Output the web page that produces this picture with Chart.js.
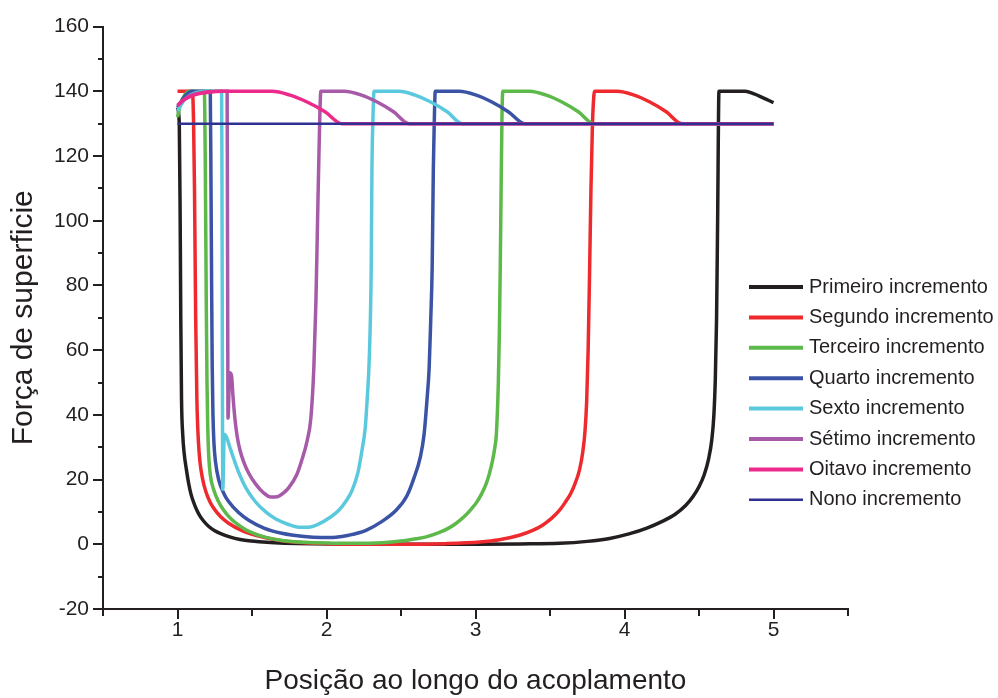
<!DOCTYPE html>
<html><head><meta charset="utf-8">
<script src="https://cdn.jsdelivr.net/npm/chart.js@4.4.0/dist/chart.umd.min.js"></script>
<style>html,body{margin:0;padding:0;background:#fff;}canvas{display:block;}</style>
</head><body>
<canvas id="c" width="998" height="698"></canvas>
<script>
// ---- data (x = position, y = force) ----
const seriesLabels = ['Primeiro incremento','Segundo incremento','Terceiro incremento','Quarto incremento','Sexto incremento','Sétimo incremento','Oitavo incremento','Nono incremento'];
const seriesColors = ['#231f20','#ee2a2e','#5db94a','#3a53a4','#5bc9dd','#a65aa8','#ec2a8c','#2e3192'];

const primeiro = [[1.0,135],[1.012,130],[1.018,100],[1.022,70],[1.027,45],[1.035,34],[1.045,28],[1.06,23],[1.075,18.8],[1.09,15.6],[1.108,13],[1.13,10.5],[1.15,8.8],[1.175,7.2],[1.21,5.5],[1.25,4.2],[1.29,3.3],[1.35,2.3],[1.42,1.5],[1.5,1.0],[1.6,0.6],[1.72,0.35],[1.9,0.15],[2.2,0.05],[2.6,0],[3.0,0],[3.3,0.1],[3.564,0.3],[3.75,0.9],[3.9,1.8],[4.03,3.2],[4.15,5],[4.25,7],[4.34,9.3],[4.41,12],[4.46,14.8],[4.5,17.8],[4.535,21.5],[4.565,26.5],[4.585,32],[4.6,40],[4.61,52],[4.618,70],[4.625,100],[4.634,140],[4.7,140],[4.81,140],[4.87,139.2],[4.93,138],[5.0,136.5]];
const segundo = [[1.0,140],[1.06,140],[1.1,140],[1.108,130],[1.114,110],[1.118,90],[1.122,70],[1.13,45],[1.14,32],[1.152,25],[1.168,20.3],[1.19,16.3],[1.215,13.4],[1.242,11.2],[1.29,8.5],[1.343,6.5],[1.43,4.3],[1.525,2.8],[1.65,1.5],[1.794,0.6],[2.0,0.2],[2.5,0],[2.8,0.2],[3.03,0.7],[3.16,1.4],[3.295,2.8],[3.38,4.2],[3.45,5.9],[3.51,8],[3.56,10.3],[3.6,12.8],[3.64,15.8],[3.67,19],[3.698,23],[3.72,28.5],[3.735,35],[3.746,44],[3.756,60],[3.766,85],[3.775,110],[3.785,130],[3.8,140],[3.95,140],[4.06,138.9],[4.17,136.7],[4.28,133.7],[4.385,130],[5.0,130]];
const terceiro = [[1.0,132],[1.02,136],[1.05,139],[1.09,140],[1.18,140],[1.186,120],[1.19,95],[1.193,75],[1.198,50],[1.203,36],[1.21,27],[1.22,21.5],[1.242,17],[1.275,13.2],[1.31,10.5],[1.36,7.8],[1.42,5.6],[1.458,4.5],[1.52,3.2],[1.58,2.3],[1.7,1.2],[1.85,0.6],[2.036,0.35],[2.2,0.3],[2.373,0.5],[2.5,1.0],[2.6,1.7],[2.669,2.3],[2.75,3.5],[2.82,5],[2.871,6.5],[2.93,8.8],[2.97,10.8],[3.005,12.8],[3.04,15.5],[3.07,18.5],[3.093,21.8],[3.115,26],[3.13,30],[3.14,34],[3.153,49.5],[3.16,65],[3.166,85],[3.172,110],[3.177,130],[3.183,140],[3.362,140],[3.47,138.9],[3.58,136.7],[3.69,133.7],[3.795,130],[5.0,130]];
const quarto = [[1.0,135],[1.05,138.5],[1.1,140],[1.22,140],[1.225,110],[1.229,80],[1.233,55],[1.238,40],[1.245,31],[1.255,25.5],[1.276,20],[1.31,15.8],[1.343,13.2],[1.41,9.8],[1.478,7.4],[1.58,5],[1.7,3.4],[1.85,2.4],[1.96,2.1],[2.063,2.2],[2.15,2.8],[2.265,4.3],[2.37,7],[2.467,10.5],[2.54,15],[2.588,20.6],[2.63,27],[2.655,34],[2.675,45],[2.689,54.5],[2.7,70],[2.709,85],[2.713,100],[2.717,116],[2.723,130],[2.73,140],[2.89,140],[3.0,138.9],[3.11,136.7],[3.22,133.7],[3.33,130],[5.0,130]];
const sexto = [[1.0,134],[1.05,137.5],[1.12,139.5],[1.2,140],[1.296,140],[1.298,120],[1.3,80],[1.302,40],[1.304,17],[1.314,34],[1.33,33],[1.35,30.2],[1.377,26.5],[1.41,22.3],[1.458,17.5],[1.52,13.3],[1.592,10],[1.66,7.8],[1.74,6.2],[1.814,5.3],[1.88,5.3],[1.949,6.3],[2.02,8.2],[2.083,10.5],[2.13,13.3],[2.171,16.6],[2.21,22],[2.238,29],[2.26,36],[2.272,44],[2.285,55],[2.292,65],[2.3,85],[2.305,116],[2.312,132],[2.319,140],[2.487,140],[2.59,138.9],[2.7,136.7],[2.81,133.7],[2.911,130],[5.0,130]];
const setimo = [[1.0,135.5],[1.06,138],[1.15,139.5],[1.25,140],[1.333,140],[1.335,110],[1.337,70],[1.339,39],[1.35,53],[1.363,52],[1.372,46],[1.385,39],[1.4,33.5],[1.42,29],[1.444,25.5],[1.48,21.8],[1.525,18.6],[1.575,16],[1.626,14.6],[1.67,14.7],[1.71,15.8],[1.747,17.5],[1.8,21.5],[1.834,26],[1.87,32],[1.895,39],[1.915,54.5],[1.929,75],[1.94,100],[1.949,120],[1.955,132],[1.962,140],[2.117,140],[2.23,138.9],[2.34,136.7],[2.45,133.7],[2.555,130],[5.0,130]];
const oitavo = [[1.0,135.7],[1.04,137.3],[1.08,138.3],[1.14,139.2],[1.21,139.7],[1.3,140],[1.633,140],[1.75,138.9],[1.87,136.7],[1.99,133.7],[2.104,130],[5.0,130]];
const nono = [[1.0,130],[5.0,130]];

const xMin = 0.5, xMax = 5.5, xStep = 0.5;
const yMin = -20, yMax = 160, yStep = 10;

const allSeries = [primeiro, segundo, terceiro, quarto, sexto, setimo, oitavo, nono];
const lineWidths = [3.5,3.5,3.5,3.5,3.5,3.5,3.5,2.5];

const INK = '#231f20';
const FONT = "'Liberation Sans', Arial, Helvetica, sans-serif";

const datasets = allSeries.map((s, i) => ({
  label: seriesLabels[i],
  data: s.map(p => ({x: p[0], y: p[1]})),
  borderColor: seriesColors[i],
  backgroundColor: seriesColors[i],
  borderWidth: lineWidths[i],
  pointRadius: 0,
  fill: false,
  cubicInterpolationMode: 'monotone',
  order: allSeries.length - i
}));

const tickMarks = {
  id: 'tickMarks',
  afterDraw(chart) {
    const ctx = chart.ctx, xs = chart.scales.x, ys = chart.scales.y, a = chart.chartArea;
    ctx.save();
    ctx.strokeStyle = INK; ctx.lineWidth = 2; ctx.lineCap = 'butt';
    for (let v = yMin; v <= yMax; v += yStep) {
      const p = Math.round(ys.getPixelForValue(v));
      const len = (Math.abs(v % 20) === 0) ? 10 : 5;
      ctx.beginPath(); ctx.moveTo(a.left, p); ctx.lineTo(a.left - len, p); ctx.stroke();
    }
    for (let v = xMin; v <= xMax + 1e-9; v += xStep) {
      const p = Math.round(xs.getPixelForValue(v));
      const len = Number.isInteger(v) ? 10 : 7;
      ctx.beginPath(); ctx.moveTo(p, a.bottom); ctx.lineTo(p, a.bottom + len); ctx.stroke();
    }
    ctx.restore();
  }
};

const legendBox = {
  id: 'legendBox',
  afterDraw(chart) {
    const ctx = chart.ctx;
    const x0 = 749, x1 = 803, tx = 809, top = 287, step = 30.4;
    ctx.save();
    chart.data.datasets.forEach((ds, i) => {
      const y = top + i * step;
      ctx.strokeStyle = ds.borderColor;
      ctx.lineWidth = i === 7 ? 2.5 : 4;
      ctx.beginPath(); ctx.moveTo(x0, y); ctx.lineTo(x1, y); ctx.stroke();
      ctx.fillStyle = INK;
      ctx.font = '20px ' + FONT;
      ctx.textBaseline = 'middle';
      ctx.textAlign = 'left';
      ctx.fillText(ds.label, tx, y);
    });
    ctx.restore();
  }
};

new Chart(document.getElementById('c'), {
  type: 'line',
  data: { datasets },
  options: {
    responsive: false,
    animation: false,
    events: [],
    layout: { padding: { top: 24, right: 150, bottom: 0, left: 0 } },
    plugins: { legend: { display: false }, tooltip: { enabled: false } },
    scales: {
      x: {
        type: 'linear', min: xMin, max: xMax,
        afterFit: s => { s.height = 89; },
        grid: { display: false, drawTicks: false },
        border: { display: true, color: INK, width: 2 },
        ticks: {
          stepSize: xStep, autoSkip: false, maxRotation: 0, padding: 9,
          color: INK, font: { family: FONT, size: 21 },
          callback: v => Number.isInteger(v) ? String(v) : ''
        },
        title: { display: true, text: 'Posição ao longo do acoplamento', color: INK,
          font: { family: FONT, size: 28 }, padding: { top: 0, bottom: 0 } }
      },
      y: {
        type: 'linear', min: yMin, max: yMax,
        afterFit: s => { s.width = 103; },
        grid: { display: false, drawTicks: false },
        border: { display: true, color: INK, width: 2 },
        ticks: {
          stepSize: yStep, autoSkip: false, padding: 14,
          color: INK, font: { family: FONT, size: 21 },
          callback: v => (v % 20 === 0) ? String(v) : ''
        },
        title: { display: true, text: 'Força de superficie', color: INK,
          font: { family: FONT, size: 30 }, padding: { top: 6, bottom: 0 } }
      }
    }
  },
  plugins: [tickMarks, legendBox]
});
</script>
</body></html>
